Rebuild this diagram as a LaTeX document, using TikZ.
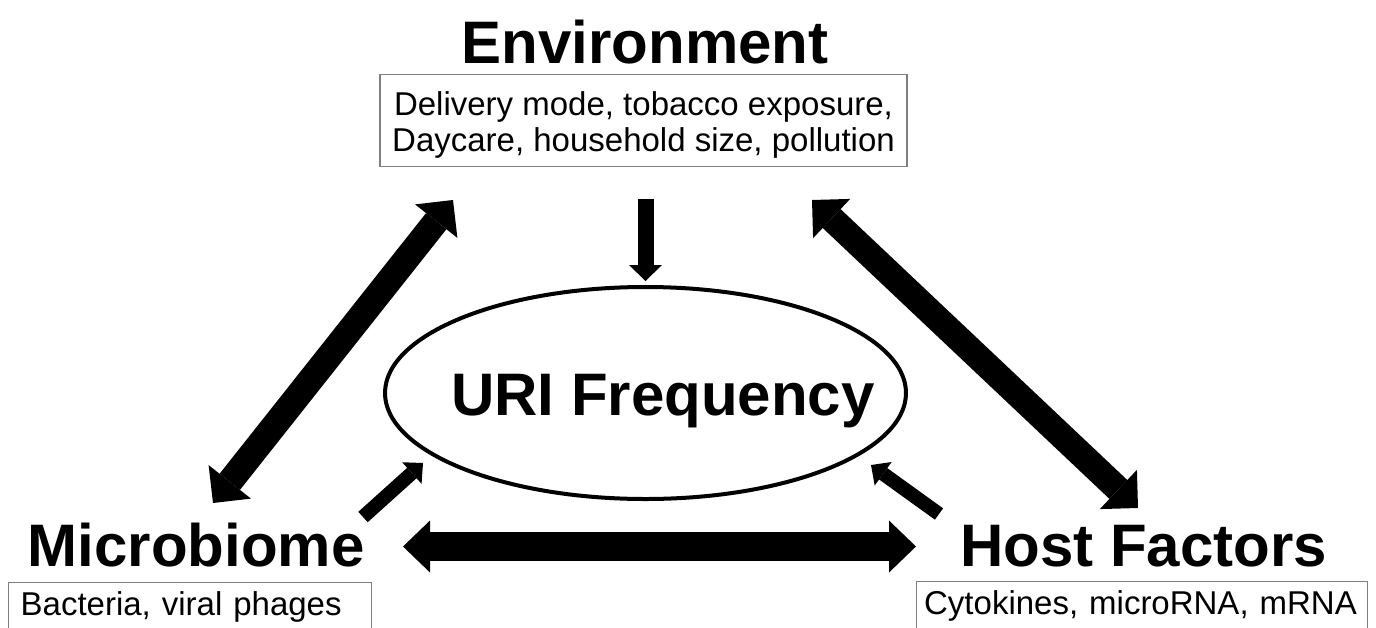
\documentclass[tikz,border=0pt]{standalone}
\usepackage{fontspec}
\setmainfont{Liberation Sans}
\usetikzlibrary{arrows.meta,shapes.geometric,positioning}
\definecolor{BoxGray}{HTML}{7F7F7F}
\tikzset{
    heading/.style = {font=\fontsize{60}{72}\selectfont\bfseries, anchor=base},
    infobox/.style = {draw=BoxGray, line width=1.3pt,
        font=\fontsize{33}{36}\selectfont},
    BigHead/.tip = {Triangle[width=54pt 0 0, length=27pt 0 0, line width=0pt 0 0]},
    WideHead/.tip = {Triangle[width=52pt 0 0, length=27pt 0 0, line width=0pt 0 0]},
    SmallHead/.tip = {Triangle[width=29pt 0 0, length=15pt 0 0, line width=0pt 0 0]},
    DownHead/.tip = {Triangle[width=33pt 0 0, length=16pt 0 0, line width=0pt 0 0]},
    bigarrow/.style = {draw, line width=26pt, BigHead-BigHead},
    widearrow/.style = {draw, line width=29pt, WideHead-WideHead},
    smallarrow/.style = {draw, line width=14pt, -SmallHead},
    downarrow/.style = {draw, line width=16pt, -DownHead}
}

\begin{document}
\begin{tikzpicture}[x=1pt,y=-1pt]
    \useasboundingbox (0,0) rectangle (1376,627);
    \clip (0,0) rectangle (1376,627);
    % the three factors
    \node[heading] (env) at (645,63) {Environment};
    \node[infobox, anchor=north, minimum width=527pt, align=center, inner ysep=10pt,
        text height=67pt, text depth=5pt] (envbox) at (643.5,74)
        {Delivery mode, tobacco exposure,\\Daycare, household size, pollution};
    \node[heading] (micro) at (196,566) {Microbiome};
    \node[infobox, anchor=north west, align=left, text width=339pt, inner xsep=12pt,
        inner ysep=8pt, text height=25pt, text depth=40pt] (microbox) at (8,582) {Bacteria, viral phages};
    \node[heading] (host) at (1143.5,566) {Host Factors};
    \node[infobox, anchor=north west, align=left, text width=436pt, inner xsep=7.5pt,
        inner ysep=8pt, text height=25pt, text depth=40pt] (hostbox) at (916,581) {Cytokines, microRNA, mRNA};
    % outcome
    \node[draw, ellipse, line width=4pt, minimum width=521pt, minimum height=212pt] (uri) at (645.5,393) {};
    \node[heading] (urilabel) at (663,415) {URI Frequency};
    % arrow ends
    \coordinate (envL) at (453,200);
    \coordinate (microN) at (213,503);
    \coordinate (envR) at (812,200);
    \coordinate (hostN) at (1138,508);
    \coordinate (microE) at (403,546.5);
    \coordinate (hostW) at (916,546.5);
    \coordinate (microU) at (363,517);
    \coordinate (uriSW) at (423,463);
    \coordinate (hostU) at (939,514);
    \coordinate (uriSE) at (871,465);
    % interactions
    \draw[bigarrow] (microN) -- (envL);
    \draw[bigarrow] (envR) -- (hostN);
    \draw[widearrow] (microE) -- (hostW);
    \draw[smallarrow] (microU) -- (uriSW);
    \draw[smallarrow] (hostU) -- (uriSE);
    \draw[downarrow, shorten <=32pt, shorten >=4pt] (uri.north |- envbox.south) -- (uri.north);
\end{tikzpicture}
\end{document}
